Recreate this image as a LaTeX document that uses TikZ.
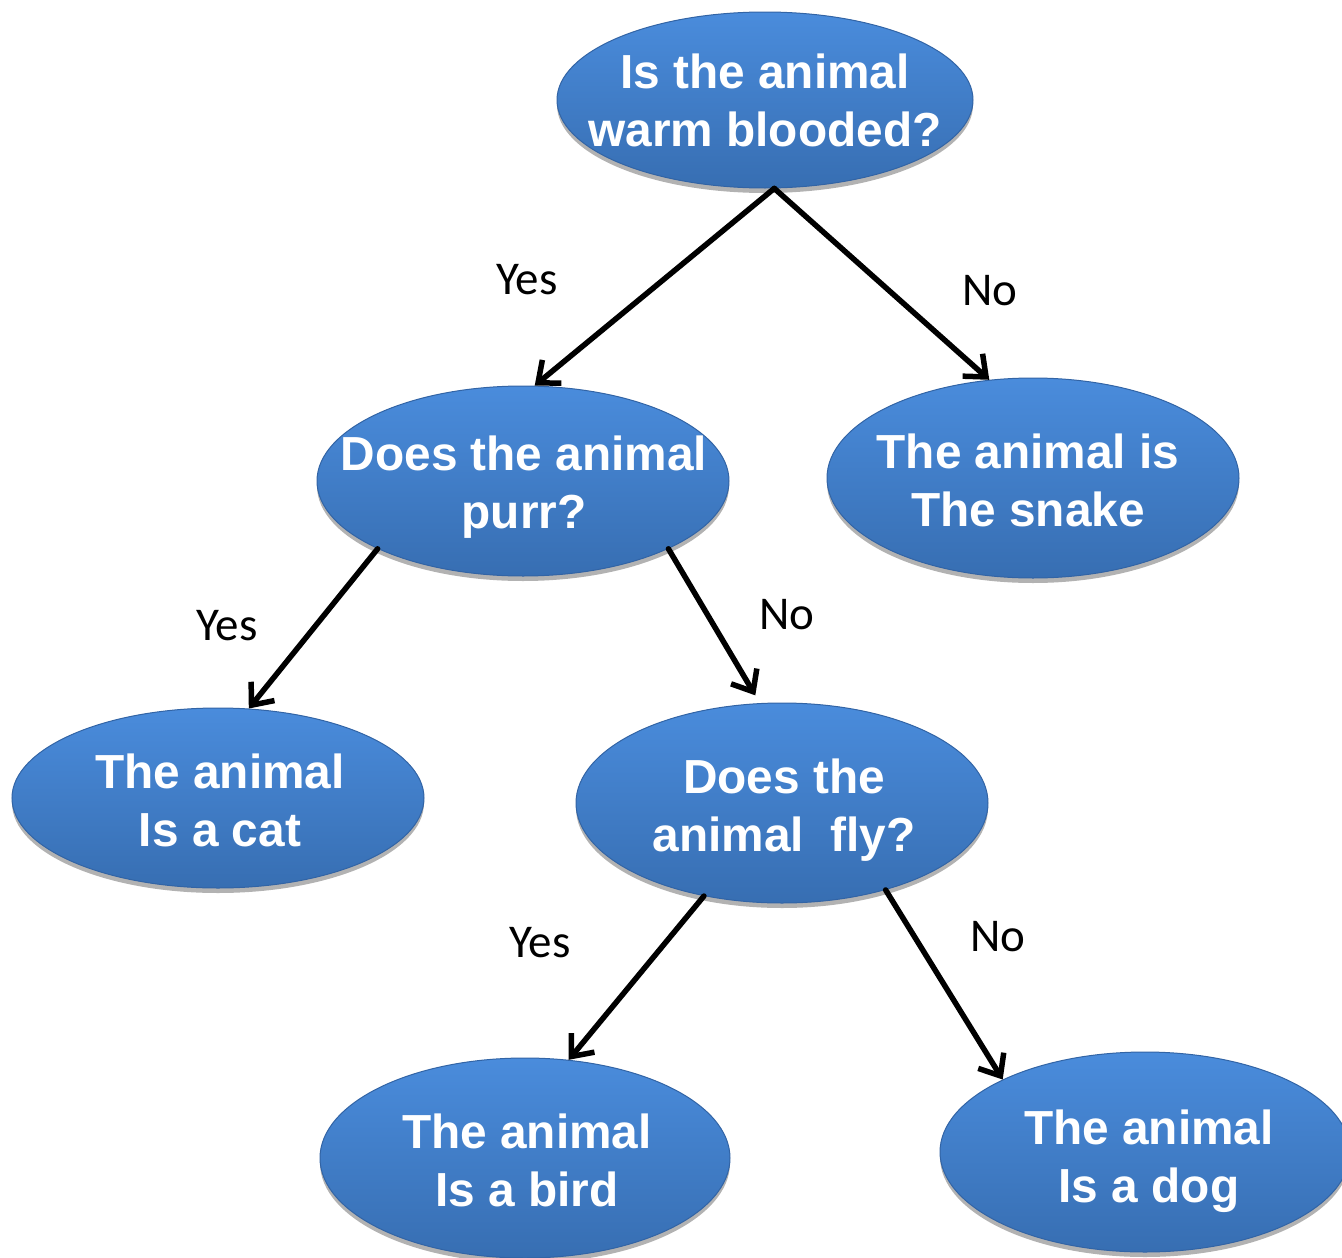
\documentclass[tikz,border=0pt]{standalone}
\usepackage{fontspec}
\setmainfont{Liberation Sans}
\newfontfamily\labfont{Carlito}
\usetikzlibrary{shapes.geometric,shadows,arrows.meta}
\definecolor{blueTop}{RGB}{74,140,220}
\definecolor{blueBot}{RGB}{55,110,178}
\definecolor{blueEdge}{RGB}{50,100,165}
\tikzset{
  qnode/.style={ellipse, inner sep=0pt, minimum width=#1, minimum height=190pt,
    top color=blueTop, bottom color=blueBot, draw=blueEdge, line width=1pt,
    drop shadow={shadow xshift=0pt, shadow yshift=-5pt, opacity=0.3, fill=black}},
  qnode/.default=412pt,
  qtext/.style={text=white, align=center, inner sep=0pt, font=\fontsize{47.8}{58}\selectfont\bfseries},
  conn/.style={line width=5.5pt, black, line cap=round, -{Straight Barb[length=18pt,width=30pt,line width=5.5pt]}},
  lab/.style={font=\labfont\fontsize{47}{55}\selectfont, text=black}
}
\begin{document}
\begin{tikzpicture}[x=1pt,y=-1pt]
\useasboundingbox (0,0) rectangle (1342,1258);
\node[qnode=416pt, minimum height=176pt] (top) at (765,100) {};
\node[qnode] (purr) at (523,481) {};
\node[qnode, minimum height=200pt] (snake) at (1033,478) {};
\node[qnode, minimum height=180pt] (cat) at (218,798) {};
\node[qnode, minimum height=200pt] (fly) at (782,803) {};
\node[qnode, minimum height=200pt, minimum width=410pt] (bird) at (525,1158) {};
\node[qnode, minimum height=200pt, minimum width=410pt] (dog) at (1145,1152) {};

\node[qtext] (topt) at (765,100) {Is the animal\\warm blooded?};
\node[qtext] (purrt) at (524,487.5) {Does the animal\\purr?};
\node[qtext] (snaket) at (1028,480.5) {The animal is\\The snake};
\node[qtext] (catt) at (220,800.5) {The animal\\Is a cat};
\node[qtext] (flyt) at (784,810) {Does the\\animal\ \ fly?};
\node[qtext] (birdt) at (527,1160) {The animal\\Is a bird};
\node[qtext] (dogt) at (1149,1161) {The animal\\Is a dog};

\draw[conn] (top.-84) -- (purr.83);
\draw[conn] (top.-84) -- (snake.114);
\draw[conn] (purr.205) -- (cat.71);
\draw[conn] (purr.-25) -- ([yshift=8pt]fly.105);
\draw[conn] (fly.230) -- (bird.66);
\draw[conn] (fly.-40) -- (dog.153);

\node[lab] (l1) at (527,280) {Yes};
\node[lab] (l2) at (990,291) {No};
\node[lab] (l3) at (227,626) {Yes};
\node[lab] (l4) at (787,615) {No};
\node[lab] (l5) at (540,943) {Yes};
\node[lab] (l6) at (998,937) {No};
\end{tikzpicture}
\end{document}
